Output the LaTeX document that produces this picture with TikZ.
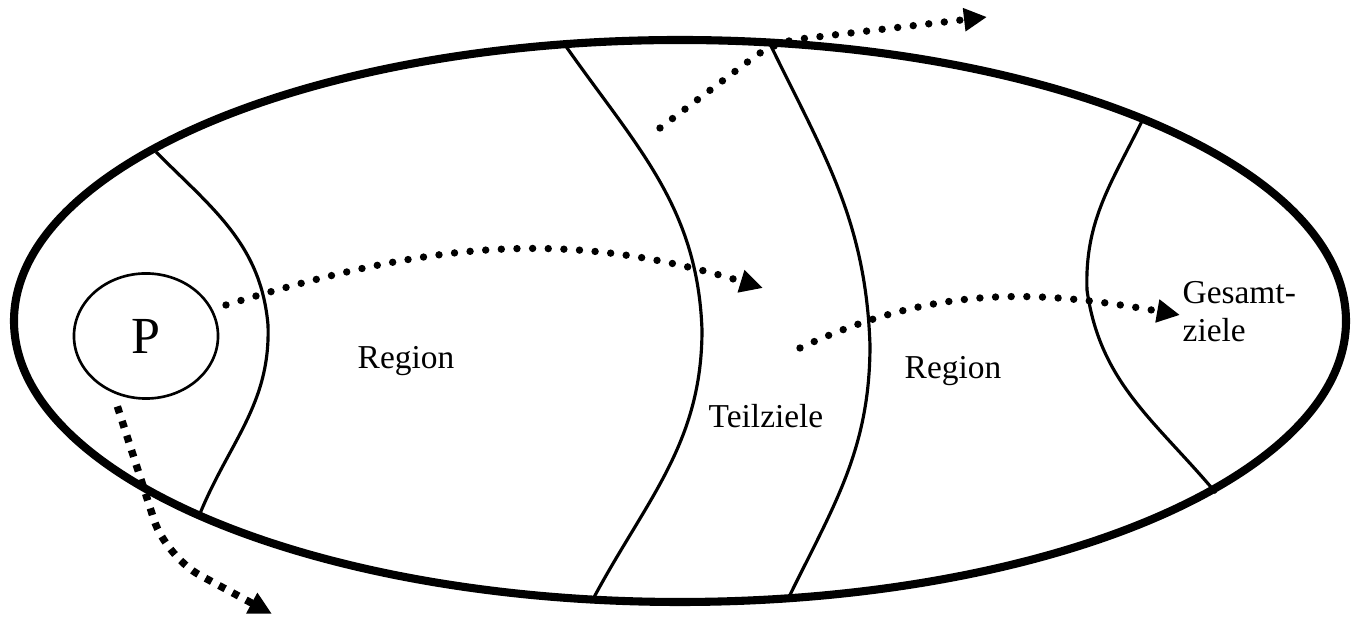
\documentclass[tikz,border=0pt]{standalone}
\usepackage{fontspec}
\setmainfont{Liberation Serif}
\usetikzlibrary{arrows.meta}
\usetikzlibrary{shapes.geometric}

\tikzset{
  grenze/.style={line width=0.9pt},
  punktpfeil/.style={line width=2.1pt, line cap=round, dash pattern=on 0pt off 4.45pt,
    -{Triangle[length=0.23cm,width=0.22cm]}},
  kastenpfeil/.style={line width=2.1pt, line cap=butt, dash pattern=on 2pt off 2.35pt,
    -{Triangle[length=0.23cm,width=0.22cm]}},
  beschriftung/.style={font=\fontsize{9.5}{10.8}\selectfont, inner sep=0pt}
}

\begin{document}
\begin{tikzpicture}[x=0.01cm,y=-0.01cm]
\useasboundingbox (0,0) rectangle (1353,619);

% Problemraum
\draw[line width=2.3pt] (680,321) ellipse [x radius=666, y radius=281];

% Grenzen der Regionen
\draw[grenze] (156,152) to[out=-45,in=95] (268,325) to[out=-88,in=68] (199,516);
\draw[grenze] (565,45) to[out=-55,in=92] (702,330) to[out=-90,in=62] (592,601);
\draw[grenze] (770,44) to[out=-64,in=92] (870,345) to[out=-90,in=64] (787,601);
\draw[grenze] (1143,119) to[out=-116,in=92] (1087,290) to[out=-82,in=130] (1216,493);

\node[draw, ellipse, line width=0.75pt, minimum width=1.44cm, minimum height=1.25cm,
  inner sep=0pt, font=\fontsize{14.8}{16}\selectfont] (p) at (146,336) {P};

\node[beschriftung] (region1) at (406,361) {Region};
\node[beschriftung] (region2) at (953,371) {Region};
\node[beschriftung] (teilziele) at (766,416) {Teilziele};
\node[beschriftung, align=left, anchor=west] (gesamtziele) at (1182,312) {Gesamt-\\ziele};

% Pfeile
\coordinate (a1) at (763,288);
\coordinate (b0) at (800,348);
\coordinate (b1) at (1180,315);
\coordinate (c0) at (660,128);
\coordinate (cknick) at (774,42);
\coordinate (c1) at (987,17);
\coordinate (dknick) at (166,557);
\coordinate (d1) at (272,614);

\draw[punktpfeil, shorten <=4pt] (p.22) to[out=17,in=163] (a1);
\draw[punktpfeil] (b0) to[out=25,in=170] (b1);
\draw[punktpfeil, rounded corners=7pt] (c0) -- (cknick) -- (c1);
\draw[kastenpfeil, rounded corners=11pt, shorten <=4pt] (p.240) -- (dknick) -- (d1);

\end{tikzpicture}
\end{document}
